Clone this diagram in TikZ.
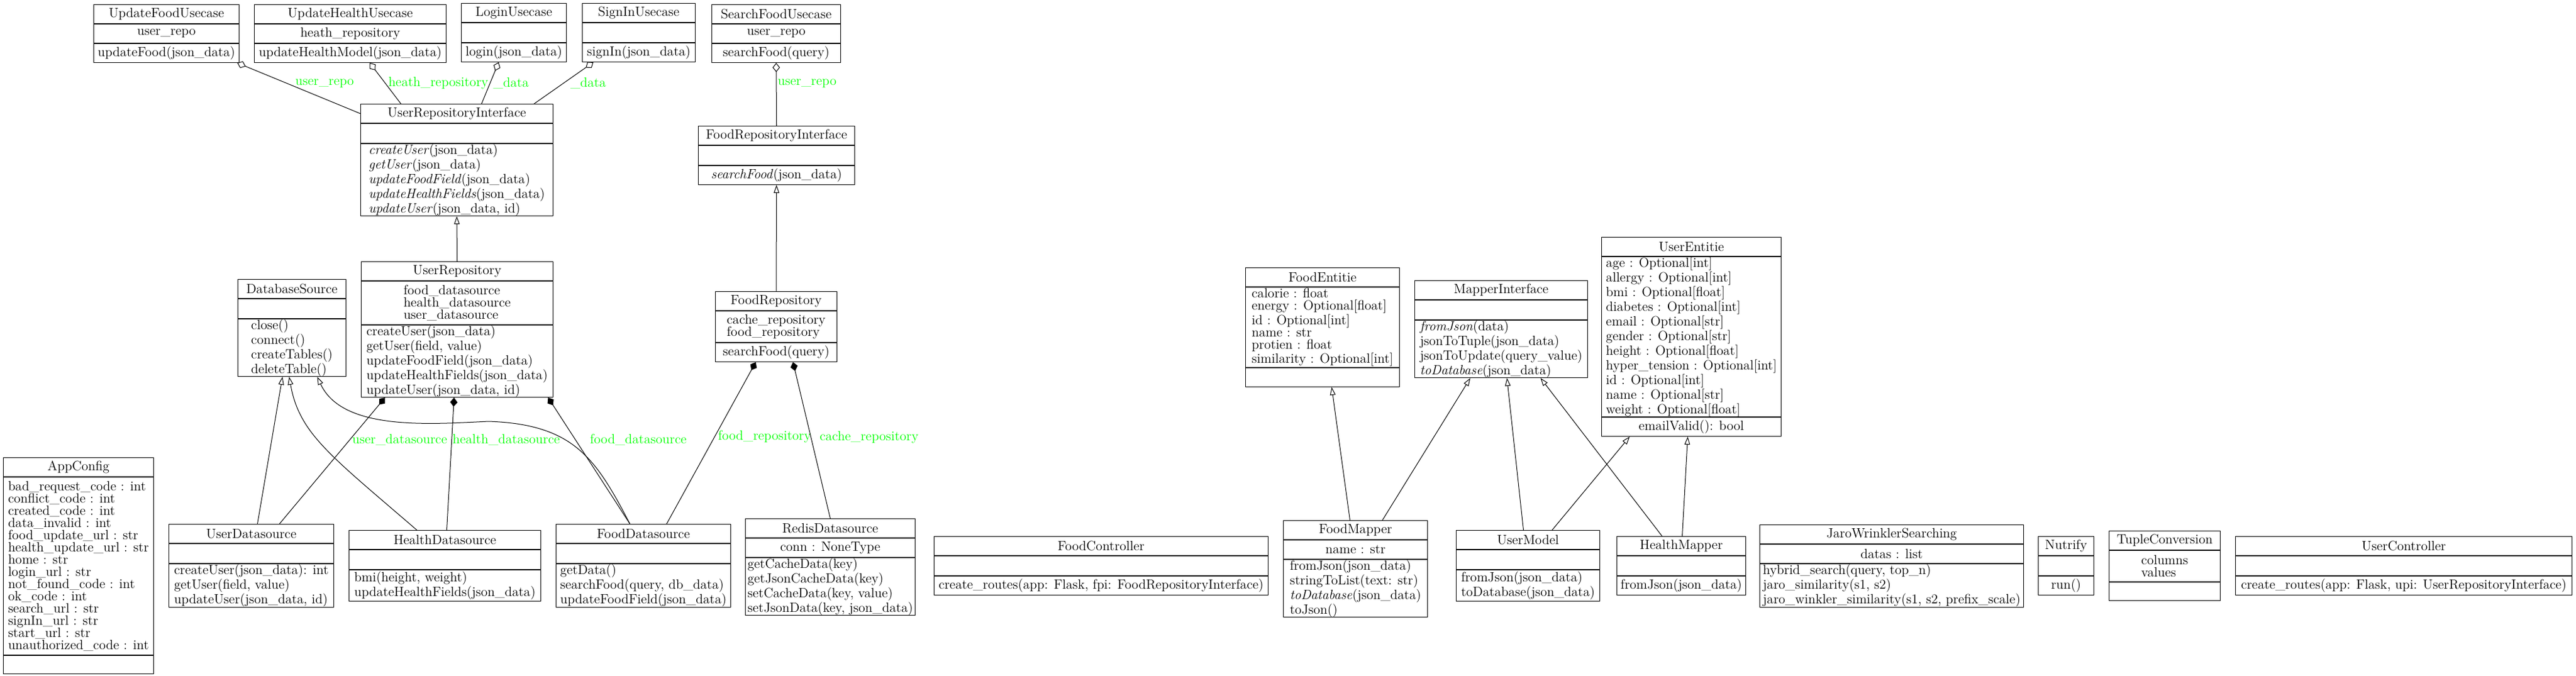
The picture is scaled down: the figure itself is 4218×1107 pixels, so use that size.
\documentclass[tikz,border=0pt]{standalone}
\usepackage{fontspec}
\usepackage{tikz}
\usetikzlibrary{positioning,calc,arrows.meta}

\newcommand\umlfont{\fontsize{11}{10}\selectfont}
\newcommand\umlifont{\fontsize{11}{9.35}\selectfont}

\tikzset{
	cls/.style={draw, line width=0.5pt, font=\umlfont, align=left, inner sep=0pt, minimum width=#1*0.5pt},
	rows/.style={minimum height=(20*#1+11)*0.5pt},
	irows/.style={minimum height=(18.7*#1+11)*0.5pt, font=\umlifont},
	agg/.style={line width=0.5pt, arrows={Diamond[open,length=7.5pt,width=6pt]-}},
	comp/.style={line width=0.5pt, arrows={Diamond[length=7.5pt,width=6pt]-}},
	inh/.style={line width=0.5pt, arrows={-Triangle[open,length=6.5pt,width=4.5pt]}},
	lbl/.style={font=\umlfont, text=green, inner sep=0pt},
}

\begin{document}
\begin{tikzpicture}[x=0.5pt,y=0.5pt,yscale=-1,xscale=1]
	\useasboundingbox (0,0) rectangle (4218,1107);
	
	%Usecases
	\node[cls=238, rows=1, anchor=north west] (ufu) at (153,7) {UpdateFoodUsecase};
	\node[cls=238, rows=1, below=0pt of ufu] (ufu-a) {user\_repo};
	\node[cls=238, rows=1, below=0pt of ufu-a] (ufu-m) {updateFood(json\_data)};
	
	\node[cls=314, rows=1, anchor=north west] (uhu) at (416,7) {UpdateHealthUsecase};
	\node[cls=314, rows=1, below=0pt of uhu] (uhu-a) {heath\_repository};
	\node[cls=314, rows=1, below=0pt of uhu-a] (uhu-m) {updateHealthModel(json\_data)};
	
	\node[cls=172, rows=1, anchor=north west] (lu) at (755,5) {LoginUsecase};
	\node[cls=172, rows=1.05, below=0pt of lu] (lu-a) {};
	\node[cls=172, rows=1, below=0pt of lu-a] (lu-m) {login(json\_data)};
	
	\node[cls=185, rows=1, anchor=north west] (siu) at (953,5) {SignInUsecase};
	\node[cls=185, rows=1.05, below=0pt of siu] (siu-a) {};
	\node[cls=185, rows=1, below=0pt of siu-a] (siu-m) {signIn(json\_data)};
	
	\node[cls=211, rows=1, anchor=north west] (sfu) at (1165,7) {SearchFoodUsecase};
	\node[cls=211, rows=1, below=0pt of sfu] (sfu-a) {user\_repo};
	\node[cls=211, rows=1, below=0pt of sfu-a] (sfu-m) {searchFood(query)};
	
	%Repository interfaces
	\node[cls=315, rows=1, anchor=north west] (uri) at (590,170) {UserRepositoryInterface};
	\node[cls=315, rows=1.05, below=0pt of uri] (uri-a) {};
	\node[cls=315, irows=5, below=0pt of uri-a] (uri-m) {\textit{createUser}(json\_data)\\\textit{getUser}(json\_data)\\\textit{updateFoodField}(json\_data)\\\textit{updateHealthFields}(json\_data)\\\textit{updateUser}(json\_data, id)};
	
	\node[cls=256, rows=1, anchor=north west] (fri) at (1143,206) {FoodRepositoryInterface};
	\node[cls=256, rows=1.05, below=0pt of fri] (fri-a) {};
	\node[cls=256, rows=1, below=0pt of fri-a] (fri-m) {\textit{searchFood}(json\_data)};
	
	%Repositories
	\node[cls=314, rows=1, anchor=north west] (ur) at (591,428) {UserRepository};
	\node[cls=314, rows=3, below=0pt of ur] (ur-a) {food\_datasource\\health\_datasource\\user\_datasource};
	\node[cls=314, rows=5, below=0pt of ur-a] (ur-m) {createUser(json\_data)\\getUser(field, value)\\updateFoodField(json\_data)\\updateHealthFields(json\_data)\\updateUser(json\_data, id)};
	
	\node[cls=177, rows=1, anchor=north west] (ds) at (389,457) {DatabaseSource};
	\node[cls=177, rows=1.05, below=0pt of ds] (ds-a) {};
	\node[cls=177, rows=4, below=0pt of ds-a] (ds-m) {close()\\connect()\\createTables()\\deleteTable()};
	
	\node[cls=199, rows=1, anchor=north west] (fr) at (1171,477) {FoodRepository};
	\node[cls=199, rows=2, below=0pt of fr] (fr-a) {cache\_repository\\food\_repository};
	\node[cls=199, rows=1, below=0pt of fr-a] (fr-m) {searchFood(query)};
	
	%Config
	\node[cls=246, rows=1, anchor=north west] (ac) at (5,749) {AppConfig};
	\node[cls=246, rows=14, below=0pt of ac] (ac-a) {bad\_request\_code : int\\conflict\_code : int\\created\_code : int\\data\_invalid : int\\food\_update\_url : str\\health\_update\_url : str\\home : str\\login\_url : str\\not\_found\_code : int\\ok\_code : int\\search\_url : str\\signIn\_url : str\\start\_url : str\\unauthorized\_code : int};
	\node[cls=246, rows=0.95, below=0pt of ac-a] (ac-m) {};
	
	%Datasources
	\node[cls=270, rows=1, anchor=north west] (uds) at (276,858) {UserDatasource};
	\node[cls=270, rows=1.05, below=0pt of uds] (uds-a) {};
	\node[cls=270, rows=3, below=0pt of uds-a] (uds-m) {createUser(json\_data): int\\getUser(field, value)\\updateUser(json\_data, id)};
	
	\node[cls=314, rows=1, anchor=north west] (hds) at (571,868) {HealthDatasource};
	\node[cls=314, rows=1.05, below=0pt of hds] (hds-a) {};
	\node[cls=314, rows=2, below=0pt of hds-a] (hds-m) {bmi(height, weight)\\updateHealthFields(json\_data)};
	
	\node[cls=286, rows=1, anchor=north west] (fds) at (910,858) {FoodDatasource};
	\node[cls=286, rows=1.05, below=0pt of fds] (fds-a) {};
	\node[cls=286, rows=3, below=0pt of fds-a] (fds-m) {getData()\\searchFood(query, db\_data)\\updateFoodField(json\_data)};
	
	\node[cls=278, rows=1, anchor=north west] (rds) at (1220,849) {RedisDatasource};
	\node[cls=278, rows=1, below=0pt of rds] (rds-a) {conn : NoneType};
	\node[cls=278, rows=4, below=0pt of rds-a] (rds-m) {getCacheData(key)\\getJsonCacheData(key)\\setCacheData(key, value)\\setJsonData(key, json\_data)};
	
	%Controllers, mappers, helpers
	\node[cls=547, rows=1, anchor=north west] (fc) at (1529,878) {FoodController};
	\node[cls=547, rows=1.05, below=0pt of fc] (fc-a) {};
	\node[cls=547, rows=1, below=0pt of fc-a] (fc-m) {create\_routes(app: Flask, fpi: FoodRepositoryInterface)};
	
	\node[cls=236, rows=1, anchor=north west] (fm) at (2101,852) {FoodMapper};
	\node[cls=236, rows=1, below=0pt of fm] (fm-a) {name : str};
	\node[cls=236, irows=4, below=0pt of fm-a] (fm-m) {fromJson(json\_data)\\stringToList(text: str)\\\textit{toDatabase}(json\_data)\\toJson()};
	
	\node[cls=235, rows=1, anchor=north west] (um) at (2384,868) {UserModel};
	\node[cls=235, rows=1.05, below=0pt of um] (um-a) {};
	\node[cls=235, rows=2, below=0pt of um-a] (um-m) {fromJson(json\_data)\\toDatabase(json\_data)};
	
	\node[cls=211, rows=1, anchor=north west] (hm) at (2647,878) {HealthMapper};
	\node[cls=211, rows=1.05, below=0pt of hm] (hm-a) {};
	\node[cls=211, rows=1, below=0pt of hm-a] (hm-m) {fromJson(json\_data)};
	
	\node[cls=432, rows=1, anchor=north west] (jws) at (2881,859) {JaroWrinklerSearching};
	\node[cls=432, rows=1, below=0pt of jws] (jws-a) {datas : list};
	\node[cls=432, rows=3, below=0pt of jws-a] (jws-m) {hybrid\_search(query, top\_n)\\jaro\_similarity(s1, s2)\\jaro\_winkler\_similarity(s1, s2, prefix\_scale)};
	
	\node[cls=91, rows=1, anchor=north west] (nu) at (3337,878) {Nutrify};
	\node[cls=91, rows=1.05, below=0pt of nu] (nu-a) {};
	\node[cls=91, rows=1, below=0pt of nu-a] (nu-m) {run()};
	
	\node[cls=182, rows=1, anchor=north west] (tc) at (3453,869) {TupleConversion};
	\node[cls=182, rows=2, below=0pt of tc] (tc-a) {columns\\values};
	\node[cls=182, rows=0.95, below=0pt of tc-a] (tc-m) {};
	
	\node[cls=551, rows=1, anchor=north west] (uc) at (3660,878) {UserController};
	\node[cls=551, rows=1.05, below=0pt of uc] (uc-a) {};
	\node[cls=551, rows=1, below=0pt of uc-a] (uc-m) {create\_routes(app: Flask, upi: UserRepositoryInterface)};
	
	%Entities
	\node[cls=252, rows=1, anchor=north west] (fe) at (2039,438) {FoodEntitie};
	\node[cls=252, rows=6, below=0pt of fe] (fe-a) {calorie : float\\energy : Optional[float]\\id : Optional[int]\\name : str\\protien : float\\similarity : Optional[int]};
	\node[cls=252, rows=1, below=0pt of fe-a] (fe-m) {};
	
	\node[cls=283, rows=1, anchor=north west] (mi) at (2316,459) {MapperInterface};
	\node[cls=283, rows=1.05, below=0pt of mi] (mi-a) {};
	\node[cls=283, irows=4, below=0pt of mi-a] (mi-m) {\textit{fromJson}(data)\\jsonToTuple(json\_data)\\jsonToUpdate(query\_value)\\\textit{toDatabase}(json\_data)};
	
	\node[cls=294, rows=1, anchor=north west] (ue) at (2622,388) {UserEntitie};
	\node[cls=294, rows=11, below=0pt of ue] (ue-a) {age : Optional[int]\\allergy : Optional[int]\\bmi : Optional[float]\\diabetes : Optional[int]\\email : Optional[str]\\gender : Optional[str]\\height : Optional[float]\\hyper\_tension : Optional[int]\\id : Optional[int]\\name : Optional[str]\\weight : Optional[float]};
	\node[cls=294, rows=1, below=0pt of ue-a] (ue-m) {emailValid(): bool};
	
	%Aggregations
	\draw[agg] ($(ufu-m.south)+(116,0)$) -- node[lbl, pos=.41, right=6pt] {user\_repo} (uri.west);
	\draw[agg] ($(uhu-m.south)+(32,0)$) -- node[lbl, pos=.5, right=2.25pt] {heath\_repository} ($(uri.north)+(-91.5,0)$);
	\draw[agg] ($(lu-m.south)+(-25,0)$) -- node[lbl, pos=.51, right=2.5pt] {\_data} ($(uri.north)+(40.5,0)$);
	\draw[agg] ($(siu-m.south)+(-74.5,0)$) -- node[lbl, pos=.51, right=5.75pt] {\_data} ($(uri.north)+(126.5,0)$);
	\draw[agg] (sfu-m.south) -- node[lbl, pos=.33, right=1pt] {user\_repo} (fri.north);
	
	%Inheritance
	\draw[inh] (ur.north) -- (uri-m.south);
	\draw[inh] (fr.north) -- (fri-m.south);
	\draw[inh] ($(uds.north)+(10,0)$) -- ($(ds-m.south)+(-15.5,0)$);
	\draw[inh] ($(hds.north)+(-46,0)$) .. controls (540,745) and (490,710) .. ($(ds-m.south)+(-4.5,0)$);
	\draw[inh] ($(fds.north)+(-22,0)$) .. controls (975,750) and (940,695) .. (800,690) .. controls (700,695) and (560,705) .. ($(ds-m.south)+(41.5,0)$);
	
	%Compositions
	\draw[comp] ($(ur-m.south)+(-118,0)$) -- node[lbl, pos=.336, right=2pt] {user\_datasource} ($(uds.north)+(46,0)$);
	\draw[comp] ($(ur-m.south)+(-5,0)$) -- node[lbl, pos=.32, right=0.5pt] {health\_datasource} ($(hds.north)+(3,0)$);
	\draw[comp] ($(ur-m.south)+(149,0)$) -- node[lbl, pos=.336, right=11.5pt] {food\_datasource} ($(fds.north)+(-22,0)$);
	\draw[comp] ($(fr-m.south)+(-33.5,0)$) -- node[lbl, pos=.46, right=2.5pt] {food\_repository} ($(fds.north)+(38,0)$);
	\draw[comp] ($(fr-m.south)+(27.5,0)$) -- node[lbl, pos=.48, right=7pt] {cache\_repository} (rds.north);
	
	%Mappers
	\draw[inh] ($(fm.north)+(-9,0)$) -- ($(fe-m.south)+(15,0)$);
	\draw[inh] ($(fm.north)+(44,0)$) -- ($(mi-m.south)+(-50.5,0)$);
	\draw[inh] ($(um.north)+(-7.5,0)$) -- ($(mi-m.south)+(9.5,0)$);
	\draw[inh] ($(um.north)+(39.5,0)$) -- ($(ue-m.south)+(-101,0)$);
	\draw[inh] ($(hm.north)+(-31.5,0)$) -- ($(mi-m.south)+(64.5,0)$);
	\draw[inh] ($(hm.north)+(1.5,0)$) -- ($(ue-m.south)+(-6,0)$);
	
\end{tikzpicture}
\end{document}
